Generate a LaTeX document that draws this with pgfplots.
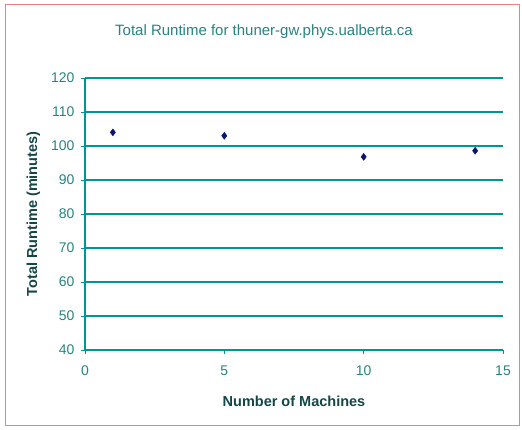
\documentclass[border=0pt]{standalone}
\usepackage{pgfplots}
\pgfplotsset{compat=1.18}
\usepackage{fontspec}
\setmainfont{Liberation Sans}
\definecolor{gridteal}{RGB}{0,150,150}
\definecolor{txtteal}{RGB}{40,130,130}
\definecolor{lbl}{RGB}{20,70,70}
\definecolor{frame}{RGB}{235,130,130}
\definecolor{navy}{RGB}{10,20,110}
\begin{document}
\begin{tikzpicture}[x=1pt,y=1pt]
\useasboundingbox (0,0) rectangle (522,430);
\draw[frame, line width=1pt] (5,4) rectangle (519,425);
\node[txtteal, font=\fontsize{15}{17}\selectfont] at (264,398) {Total Runtime for thuner-gw.phys.ualberta.ca};
\begin{axis}[
  at={(85pt,80pt)}, anchor=south west,
  scale only axis, width=418pt, height=272pt,
  xmin=0, xmax=15, ymin=40, ymax=120,
  xtick={0,5,10,15}, ytick={40,50,...,120},
  axis x line=bottom, axis y line=left,
  axis line style={draw=gridteal, line width=1.2pt, -},
  ymajorgrids=true,
  grid style={draw=gridteal, line width=1.2pt},
  tick style={draw=gridteal, line width=0.9pt},
  tick align=outside, major tick length=4pt,
  tick label style={txtteal, font=\fontsize{14}{16}\selectfont},
  /pgf/number format/assume math mode=true,
  xticklabel style={yshift=-8pt},
  yticklabel style={xshift=-3pt},
  xlabel={\textbf{Number of Machines}},
  ylabel={\textbf{Total Runtime (minutes)}},
  label style={lbl, font=\fontsize{14.5}{16}\selectfont},
  xlabel style={yshift=-14pt},
  ylabel style={yshift=4pt},
  clip=false,
]
\addplot[only marks, mark=diamond*, mark size=3.5pt, color=navy] coordinates {
  (1,104) (5,103) (10,96.8) (14,98.6)
};
\end{axis}
\end{tikzpicture}
\end{document}
